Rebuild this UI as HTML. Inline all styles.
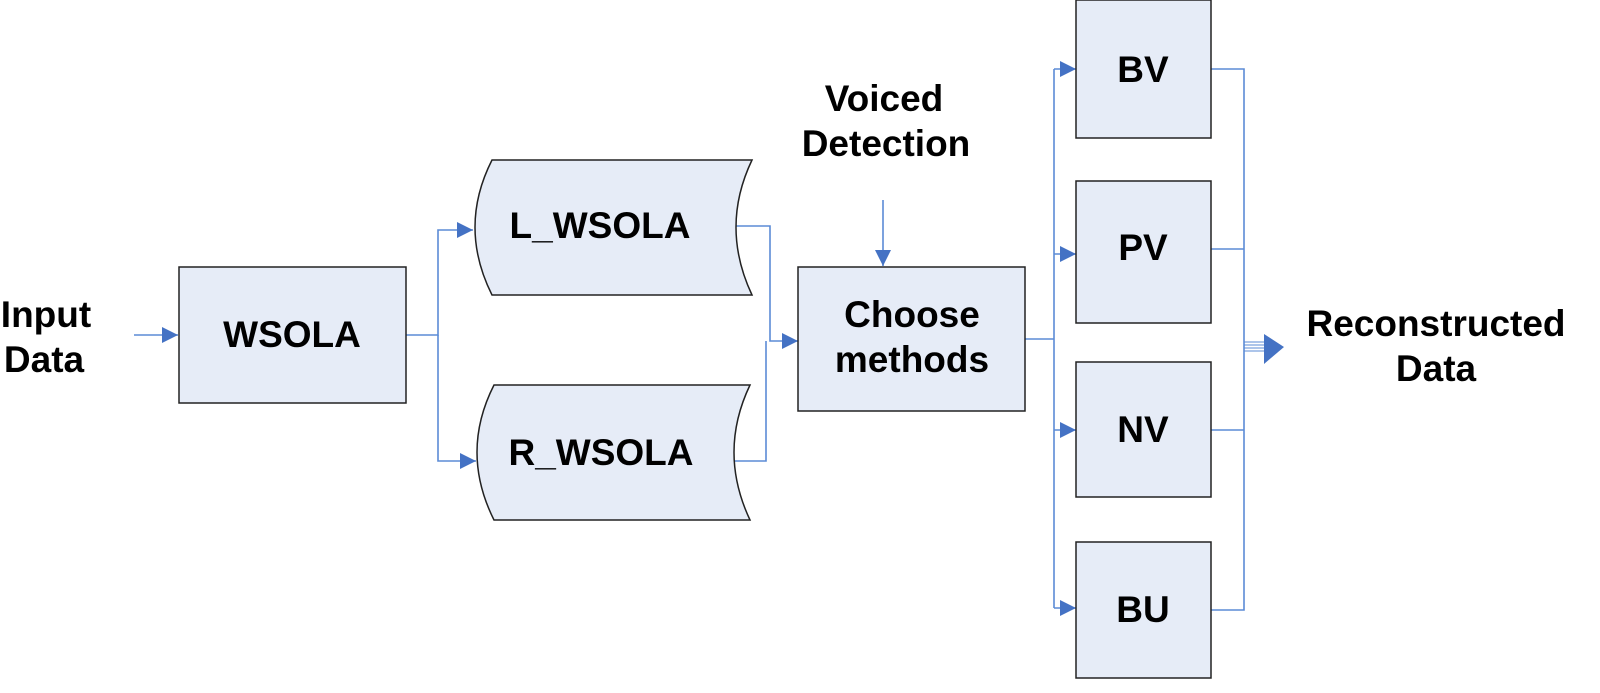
<!DOCTYPE html>
<html><head><meta charset="utf-8"><style>
html,body{margin:0;padding:0;background:#fff;}
svg{display:block;}
text{font-family:"Liberation Sans",Arial,sans-serif;font-weight:bold;font-size:37px;fill:#000;text-anchor:middle;}
</style></head><body>
<svg width="1600" height="693" viewBox="0 0 1600 693" xmlns="http://www.w3.org/2000/svg">
<defs>
<marker id="a" markerWidth="16" markerHeight="16" refX="16" refY="8" orient="auto" markerUnits="userSpaceOnUse" viewBox="0 0 16 16">
<path d="M0,0 L16,8 L0,16 z" fill="#4472c4"/>
</marker>
</defs>
<g fill="none" stroke="#5b8bd6" stroke-width="1.6">
<path d="M134,335 H178" marker-end="url(#a)"/>
<path d="M406,335 H438 V230 H473" marker-end="url(#a)"/>
<path d="M438,335 V461 H476" marker-end="url(#a)"/>
<path d="M734,226 H770 V341 H798" marker-end="url(#a)"/>
<path d="M718,461 H766 V341"/>
<path d="M883,200 V266" marker-end="url(#a)"/>
<path d="M1025,339 H1054"/>
<path d="M1054,69 V608"/>
<path d="M1054,69 H1076" marker-end="url(#a)"/>
<path d="M1054,254 H1076" marker-end="url(#a)"/>
<path d="M1054,430 H1076" marker-end="url(#a)"/>
<path d="M1054,608 H1076" marker-end="url(#a)"/>
<path d="M1211,69 H1244 V610 H1211"/>
<path d="M1211,249 H1244"/>
<path d="M1211,430 H1244"/>
<path d="M1244,342 H1270 M1244,345 H1270 M1244,348 H1270 M1244,351 H1270" stroke-width="1"/>
</g>
<path d="M1264,334 L1284,347 L1264,364 z" fill="#4472c4"/>
<g fill="#e6ecf7" stroke="#222" stroke-width="1.5">
<rect x="179" y="267" width="227" height="136"/>
<path d="M492,160 H752 Q720,227 752,295 H492 Q458,227 492,160 z"/>
<path d="M494,385 H750 Q718,452 750,520 H494 Q460,452 494,385 z"/>
<rect x="798" y="267" width="227" height="144"/>
<rect x="1076" y="0" width="135" height="138"/>
<rect x="1076" y="181" width="135" height="142"/>
<rect x="1076" y="362" width="135" height="135"/>
<rect x="1076" y="542" width="135" height="136"/>
</g>
<text x="46" y="327">Input</text>
<text x="44" y="372">Data</text>
<text x="292" y="347">WSOLA</text>
<text x="600" y="238">L_WSOLA</text>
<text x="601" y="465">R_WSOLA</text>
<text x="884" y="111">Voiced</text>
<text x="886" y="156">Detection</text>
<text x="912" y="327">Choose</text>
<text x="912" y="372">methods</text>
<text x="1143" y="82">BV</text>
<text x="1143" y="260">PV</text>
<text x="1143" y="442">NV</text>
<text x="1143" y="622">BU</text>
<text x="1436" y="336">Reconstructed</text>
<text x="1436" y="381">Data</text>
</svg>
</body></html>
